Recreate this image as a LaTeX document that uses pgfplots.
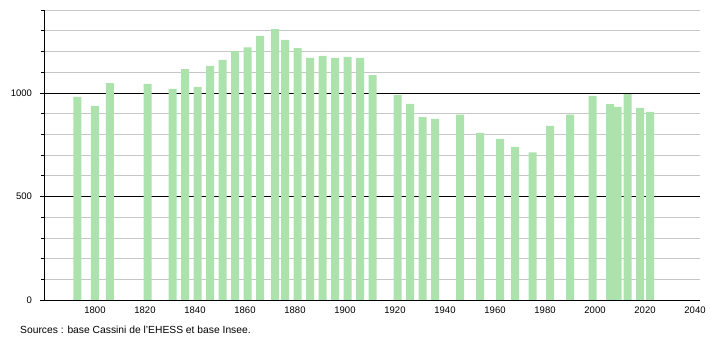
\documentclass[border=0pt]{standalone}
\usepackage{fontspec}
\setmainfont{Liberation Sans}
\usepackage{pgfplots}
\pgfplotsset{compat=1.18}
\definecolor{barg}{RGB}{172,226,172}
\begin{document}
\begin{tikzpicture}[x=1pt,y=1pt]
\useasboundingbox (0,0) rectangle (710,340);
\begin{axis}[
  at={(44pt,40pt)}, anchor=south west,
  scale only axis, width=656pt, height=290pt,
  xmin=1779.6, xmax=2042, ymin=0, ymax=1400,
  axis x line=bottom, axis y line=left,
  axis line style={-, black, line width=0.9pt},
  xtick={1800,1820,...,2040}, x tick style={draw=none},
  ytick={0,500,1000}, minor ytick={100,200,...,1400},
  ymajorgrids, yminorgrids,
  major grid style={black, line width=0.7pt},
  minor grid style={black!22, line width=0.7pt},
  tick label style={font=\fontsize{9.5}{10}\selectfont},
  xticklabel style={yshift=0.5pt},
  /pgf/number format/assume math mode=true,
  /pgf/number format/1000 sep={},
  y tick style={black, line width=0.6pt},
  major tick length=4pt, minor tick length=3pt, tick align=outside,
  yticklabel style={xshift=-4.5pt},
  ybar, bar width=8pt,
]
\addplot[fill=barg, draw=none] coordinates {
(1793,981) (1800,937) (1806,1047) (1821,1043) (1831,1019) (1836,1114)
(1841,1029) (1846,1130) (1851,1159) (1856,1201) (1861,1219) (1866,1275)
(1872,1308) (1876,1256) (1881,1216) (1886,1169) (1891,1179) (1896,1169)
(1901,1174) (1906,1169) (1911,1085) (1921,989) (1926,947) (1931,883)
(1936,874) (1946,895) (1954,807) (1962,778) (1968,739) (1975,713)
(1982,841) (1990,895) (1999,986) (2006,945) (2009,932) (2013,994)
(2018,928) (2022,908)
};
\end{axis}
\node[anchor=west, inner sep=0pt, font=\fontsize{10.3}{11}\selectfont] at (20,10) {Sources : base Cassini de l'EHESS et base Insee.};
\end{tikzpicture}
\end{document}
